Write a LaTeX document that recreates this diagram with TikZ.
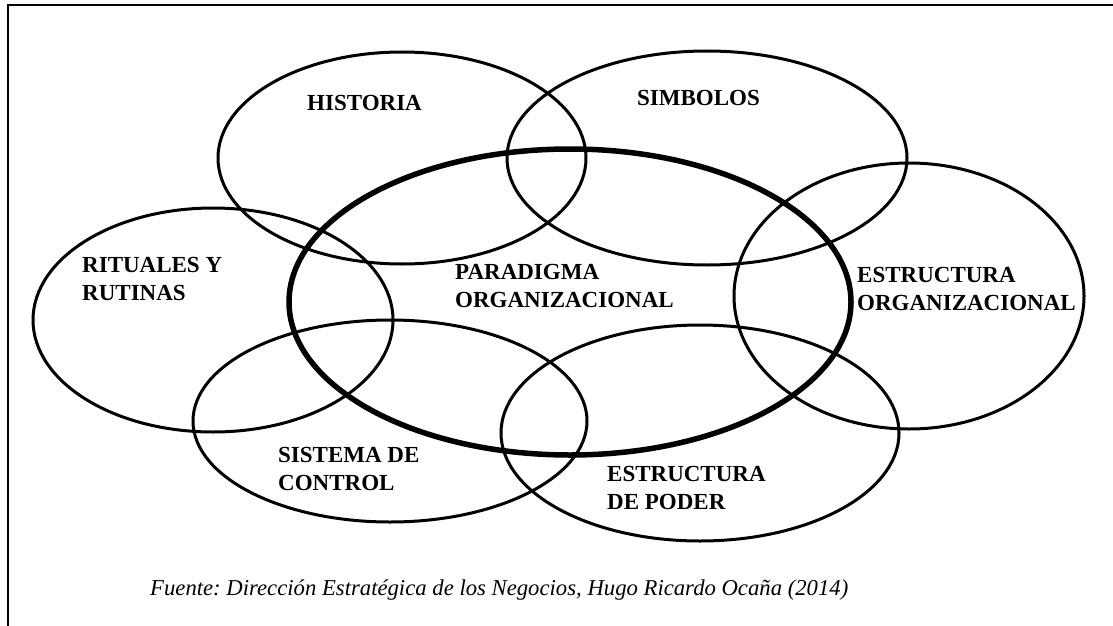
\documentclass[tikz,border=0pt]{standalone}
\usepackage{fontspec}
\setmainfont{Liberation Serif}
\usetikzlibrary{shapes.geometric}
\frenchspacing
\begin{document}
\begin{tikzpicture}[x=1pt,y=-1pt,
  ell/.style={draw=black, shape=ellipse, inner sep=0pt, outer sep=0pt, line width=3pt},
  thickell/.style={ell, line width=5.5pt},
  lbl/.style={font=\fontsize{23}{28}\selectfont\bfseries, align=left, inner sep=0pt, anchor=west, text=black},
  captext/.style={font=\fontsize{22.7}{26}\selectfont\itshape, inner sep=0pt, anchor=west, text=black}]
\useasboundingbox (0,0) rectangle (1113,626);
\fill[white] (0,0) rectangle (1113,626);
\coordinate (frTR) at (1113,5.5);
\coordinate (frTL) at (8,5.5);
\coordinate (frBL) at (8,626);
\draw[line width=2pt] (frTR) -- (frTL) -- (frBL);

\node[ell, minimum width=368pt, minimum height=212pt] (historia) at (402,158) {};
\node[ell, minimum width=400pt, minimum height=214pt] (simbolos) at (707,158) {};
\node[ell, minimum width=360pt, minimum height=224pt] (rituales) at (213,320) {};
\node[ell, minimum width=350pt, minimum height=266pt] (estorg) at (909,296) {};
\node[ell, minimum width=394pt, minimum height=202pt] (sistema) at (390,421) {};
\node[ell, minimum width=398pt, minimum height=216pt] (poder) at (700,433) {};
\node[thickell, minimum width=562pt, minimum height=306pt] (paradigma) at (570,302) {};

\node[lbl] (lhistoria) at (307,103) {HISTORIA};
\node[lbl] (lsimbolos) at (637,98) {SIMBOLOS};
\node[lbl] (lrituales) at (82,279) {RITUALES Y\\RUTINAS};
\node[lbl] (lparadigma) at (455,286) {PARADIGMA\\ORGANIZACIONAL};
\node[lbl] (lestorg) at (857,289) {ESTRUCTURA\\ORGANIZACIONAL};
\node[lbl] (lsistema) at (278,469) {SISTEMA DE\\CONTROL};
\node[lbl] (lpoder) at (607,488) {ESTRUCTURA\\DE PODER};

\node[captext] (fuente) at (150,590) {Fuente: Dirección Estratégica de los Negocios, Hugo Ricardo Ocaña (2014)};
\end{tikzpicture}
\end{document}
